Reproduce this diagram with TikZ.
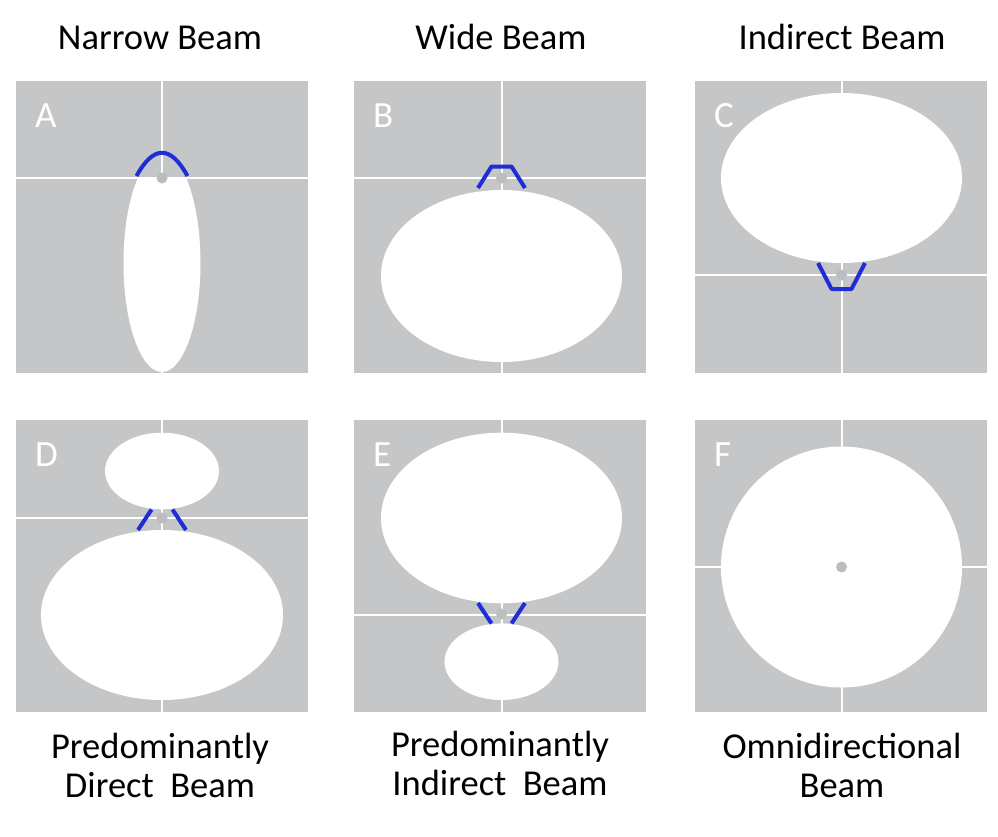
\documentclass[tikz,border=0pt]{standalone}
\usepackage{fontspec}
\setmainfont{Carlito}
\definecolor{panelgray}{RGB}{197,198,200}
\definecolor{dotgray}{RGB}{188,189,191}
\definecolor{beamblue}{RGB}{30,45,215}
\begin{document}
\begin{tikzpicture}[x=1pt,y=-1pt,line join=round,font=\fontsize{36.5}{39}\selectfont]
			\def\pw{292}
			\tikzset{panel/.style={fill=panelgray},axisline/.style={white,line width=2pt},lobe/.style={fill=white},
				beam/.style={beamblue,line width=4pt},src/.style={fill=dotgray},
				tag/.style={white,anchor=base west,inner sep=0pt,font=\fontsize{37}{37}\selectfont},
				title/.style={anchor=base,inner sep=0pt}}
			\useasboundingbox (0,0) rectangle (998,836);
			% row 1
			\begin{scope}[shift={(16,81)}]
			\fill[panel] (0,0) rectangle (\pw,\pw);
			\draw[axisline] (146,0)--(146,\pw) (0,97)--(\pw,97);
			\begin{scope}\clip (0,97) rectangle (\pw,\pw);\fill[lobe] (146,182) ellipse (38.5 and 109);\end{scope}
			\fill[src] (146,97) circle (5.5);
			\draw[beam] (120.5,95) .. controls (137.5,64) and (154.5,64) .. (171.5,95);
			\node[tag] (tagA) at (19,46) {A};
			\end{scope}
			\begin{scope}[shift={(354,81)}]
			\fill[panel] (0,0) rectangle (\pw,\pw);
			\draw[axisline] (147.5,0)--(147.5,\pw) (0,97)--(\pw,97);
			\fill[lobe] (147.5,195) ellipse (120.5 and 86);
			\fill[src] (147.5,97) circle (5.5);
			\draw[beam] (124,107)--(137.5,85.5)--(157.5,85.5)--(171,107);
			\node[tag] (tagB) at (19,46) {B};
			\end{scope}
			\begin{scope}[shift={(695,81)}]
			\fill[panel] (0,0) rectangle (\pw,\pw);
			\draw[axisline] (146.5,0)--(146.5,\pw) (0,194)--(\pw,194);
			\fill[lobe] (146.5,97) ellipse (120.5 and 85);
			\fill[src] (146.5,194) circle (5.5);
			\draw[beam] (123,182)--(136.5,208)--(156.5,208)--(170,182);
			\node[tag] (tagC) at (19,46) {C};
			\end{scope}
			% row 2
			\begin{scope}[shift={(16,420)}]
			\fill[panel] (0,0) rectangle (\pw,\pw);
			\draw[axisline] (146,0)--(146,\pw) (0,98)--(\pw,98);
			\fill[lobe] (146,51) ellipse (57 and 38.3) (146,195) ellipse (121 and 85);
			\fill[src] (146,98) circle (5.5);
			\draw[beam] (122,110)--(135.5,89.5) (156.5,89.5)--(170,110);
			\node[tag] (tagD) at (19,46) {D};
			\end{scope}
			\begin{scope}[shift={(354,420)}]
			\fill[panel] (0,0) rectangle (\pw,\pw);
			\draw[axisline] (147.5,0)--(147.5,\pw) (0,195)--(\pw,195);
			\fill[lobe] (147.5,98) ellipse (120.5 and 85.3) (147.5,241.7) ellipse (57 and 38.3);
			\fill[src] (147.5,194) circle (5.5);
			\draw[beam] (124,183)--(137.5,203.5) (157.5,203.5)--(171,183);
			\node[tag] (tagE) at (19,46) {E};
			\end{scope}
			\begin{scope}[shift={(695,420)}]
			\fill[panel] (0,0) rectangle (\pw,\pw);
			\draw[axisline] (146.5,0)--(146.5,\pw) (0,147)--(\pw,147);
			\fill[lobe] (146.5,147) circle (120.5);
			\fill[src] (146.5,147) circle (5.5);
			\node[tag] (tagF) at (19,46) {F};
			\end{scope}
			% titles
			\node[title] (tNarrow) at (160,49) {Narrow Beam};
			\node[title] (tWide) at (501,49) {Wide Beam};
			\node[title] (tIndirect) at (842,49) {Indirect Beam};
			\node[title] (capDa) at (160,758) {Predominantly};\node[title] (capDb) at (160,797) {Direct\ \ Beam};
			\node[title] (capEa) at (500,756) {Predominantly};\node[title] (capEb) at (500,795) {Indirect\ \ Beam};
			\node[title] (capFa) at (842,758) {Omnidirectional};\node[title] (capFb) at (842,797) {Beam};
			\end{tikzpicture}
\end{document}
